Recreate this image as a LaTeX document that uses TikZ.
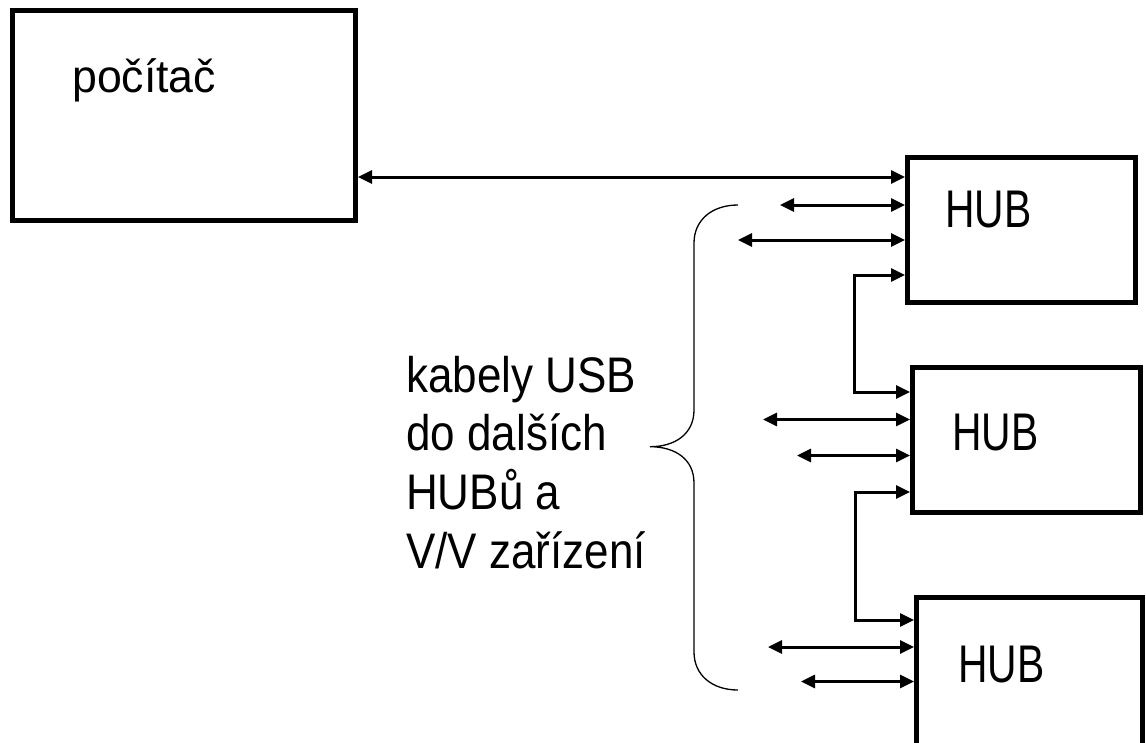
\documentclass[tikz,border=0pt]{standalone}
\usepackage{fontspec}
\setmainfont{Liberation Sans}
\usetikzlibrary{arrows.meta}
\begin{document}
\begin{tikzpicture}[x=1pt,y=-1pt,
  box/.style={draw,line width=5pt,rectangle,inner sep=0pt,minimum width=228pt,minimum height=145pt},
  lbl/.style={anchor=base west,inner sep=0pt,font=\fontsize{50}{58}\selectfont},
  hubtxt/.style={anchor=base west,inner sep=0pt,font=\fontsize{53}{60}\selectfont},
  link/.style={line width=3pt,{Triangle[length=14pt,width=13pt]}-{Triangle[length=14pt,width=13pt]}},
  brace/.style={line width=1.3pt}]
\useasboundingbox (0,0) rectangle (1146,742);
\clip (0,0) rectangle (1146,742);
% boxes
\node[box,minimum width=343pt,minimum height=210pt] (pc) at (184,115.5) {};
\node[box] (hub1) at (1021.5,230) {};
\node[box] (hub2) at (1026.5,440) {};
\node[box,minimum width=226pt,minimum height=155pt] (hub3) at (1029.5,675) {};
% texts
\node[anchor=base west,inner sep=0pt,font=\fontsize{46}{52}\selectfont] (pct) at (72,92) {\scalebox{0.97}[1]{počítač}};
\node[hubtxt] (h1t) at (945,227) {\scalebox{0.77}[1]{HUB}};
\node[hubtxt] (h2t) at (952,450) {\scalebox{0.77}[1]{HUB}};
\node[hubtxt] (h3t) at (958,682) {\scalebox{0.77}[1]{HUB}};
\node[lbl] (k1) at (406,392) {\scalebox{0.88}[1]{kabely USB}};
\node[lbl] (k2) at (406,450.5) {\scalebox{0.88}[1]{do dalších}};
\node[lbl] (k3) at (406,509) {\scalebox{0.88}[1]{HUBů a}};
\node[lbl] (k4) at (406,568) {\scalebox{0.88}[1]{V/V zařízení}};
% computer link
\coordinate (c0) at (0,177);
\draw[link] (pc.east |- c0) -- (hub1.west |- c0);
% free cable ends
\coordinate (a1) at (780,205);
\coordinate (a2) at (738,240);
\coordinate (a3) at (763,419.5);
\coordinate (a4) at (797,455.5);
\coordinate (a5) at (768,647);
\coordinate (a6) at (801,681.5);
\draw[link] (a1) -- (hub1.west |- a1);
\draw[link] (a2) -- (hub1.west |- a2);
\draw[link] (a3) -- (hub2.west |- a3);
\draw[link] (a4) -- (hub2.west |- a4);
\draw[link] (a5) -- (hub3.west |- a5);
\draw[link] (a6) -- (hub3.west |- a6);
% hub chain
\coordinate (b1) at (854.5,275);
\coordinate (b2) at (854.5,392);
\coordinate (b3) at (855,492);
\coordinate (b4) at (855,620);
\draw[link] (hub1.west |- b1) -- (b1) -- (b2) -- (hub2.west |- b2);
\draw[link] (hub2.west |- b3) -- (b3) -- (b4) -- (hub3.west |- b4);
% brace
\draw[brace] (738,205) .. controls (712,205) and (694,220) .. (694,243)
  -- (694,410) .. controls (694,434) and (675,446.7) .. (650,446.7)
  .. controls (675,446.7) and (694,459) .. (694,483)
  -- (694,652) .. controls (694,675) and (712,690) .. (738,690);
\end{tikzpicture}
\end{document}
